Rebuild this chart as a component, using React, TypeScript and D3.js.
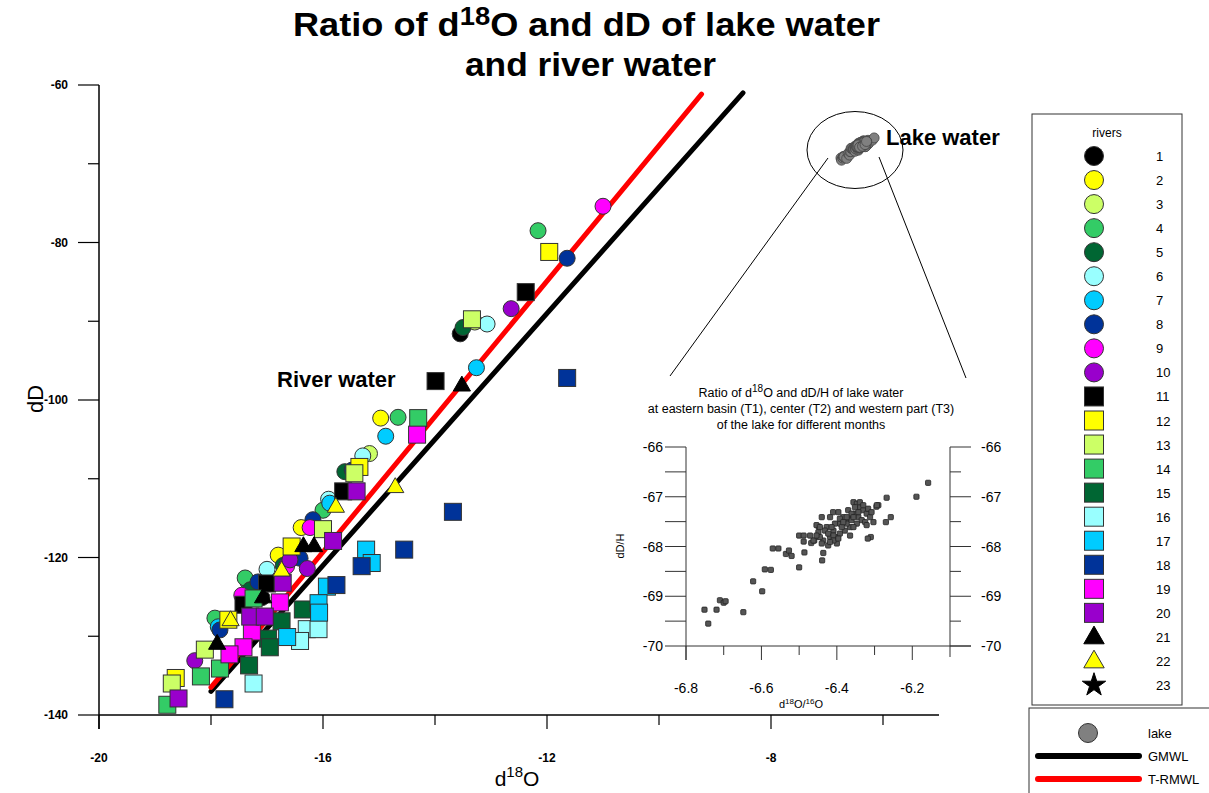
import React from "react";
import * as d3 from "d3";

type Pt = [number, number];

// River samples: [d18O, dD] per river
const river01: Pt[] = [[-13.55, -91.6], [-16.59, -120.3], [-17.09, -125.1]];
const river02: Pt[] = [[-14.97, -102.3], [-16.39, -116.2], [-16.8, -119.7]];
const river03: Pt[] = [[-15.17, -106.8], [-13.29, -90.1], [-17.21, -123.5]];
const river04: Pt[] = [[-12.16, -78.5], [-14.66, -102.2], [-16.0, -114.0], [-17.34, -123.1], [-17.39, -122.6], [-17.93, -127.7]];
const river05: Pt[] = [[-13.5, -90.8], [-15.61, -109.1], [-16.71, -121.0], [-17.3, -124.1]];
const river06: Pt[] = [[-13.07, -90.35], [-15.29, -107.1], [-15.9, -112.6], [-17.0, -121.5]];
const river07: Pt[] = [[-13.26, -95.9], [-14.88, -104.6], [-15.88, -113.1], [-17.87, -128.8]];
const river08: Pt[] = [[-11.64, -82.0], [-16.18, -115.2], [-17.16, -123.1], [-17.84, -129.2], [-15.48, -108.9], [-16.41, -120.1]];
const river09: Pt[] = [[-11.0, -75.4], [-16.23, -116.2], [-16.65, -121.1], [-17.45, -124.8]];
const river10: Pt[] = [[-12.64, -88.4], [-16.28, -121.4], [-18.29, -133.1], [-16.59, -120.3]];
const river11: Pt[] = [[-12.38, -86.3], [-13.99, -97.6], [-15.64, -111.6], [-17.0, -123.3], [-17.42, -126.0]];
const river12: Pt[] = [[-11.96, -81.2], [-15.35, -108.5], [-16.56, -118.6], [-17.69, -127.9], [-18.63, -135.3]];
const river13: Pt[] = [[-13.34, -89.75], [-15.44, -109.3], [-16.0, -116.4], [-18.11, -131.7], [-18.7, -136.0]];
const river14: Pt[] = [[-14.3, -102.3], [-17.24, -125.2], [-17.84, -134.1], [-18.18, -135.1], [-18.78, -138.7]];
const river15: Pt[] = [[-16.36, -126.6], [-16.74, -128.1], [-16.98, -130.3], [-16.95, -131.4], [-17.32, -133.7]];
const river16: Pt[] = [[-16.29, -129.1], [-16.08, -129.1], [-16.41, -130.6], [-17.24, -136.0]];
const river17: Pt[] = [[-15.23, -119.0], [-15.13, -120.7], [-15.93, -123.7], [-16.08, -125.8], [-16.07, -127.0], [-16.64, -130.1]];
const river18: Pt[] = [[-11.64, -97.2], [-13.68, -114.2], [-14.55, -119.0], [-15.31, -121.1], [-15.76, -123.5], [-17.76, -138.0]];
const river19: Pt[] = [[-14.32, -104.4], [-16.77, -125.7], [-17.27, -129.4], [-17.42, -131.4], [-17.67, -132.3]];
const river20: Pt[] = [[-15.4, -111.6], [-15.82, -117.9], [-16.72, -123.2], [-17.3, -127.5], [-17.04, -127.5], [-18.58, -137.9]];
const river21: Pt[] = [[-13.52, -98.1], [-16.35, -118.5], [-16.16, -118.5], [-17.07, -125.0], [-17.89, -130.9]];
const river22: Pt[] = [[-14.71, -111.0], [-15.77, -113.5], [-16.74, -121.6], [-17.65, -127.9]];
const river23: Pt[] = [];

const riverData: Pt[][] = [
  river01, river02, river03, river04, river05, river06, river07, river08, river09, river10,
  river11, river12, river13, river14, river15, river16, river17, river18, river19, river20,
  river21, river22, river23,
];
const riverLabels = d3.range(1, 24).map(String);

const palette = ["#000000", "#ffff00", "#ccff66", "#33cc66", "#006633", "#99ffff", "#00ccff", "#003399", "#ff00ff", "#9900cc"];
type Shape = "circle" | "square" | "triangle" | "star";
const riverShape = (i: number): Shape => (i < 10 ? "circle" : i < 20 ? "square" : i === 22 ? "star" : "triangle");
const riverFill = (i: number): string => (i < 20 ? palette[i % 10] : i === 21 ? "#ffff00" : "#000000");

// Lake water samples: [d18O, dD]
const lakeSamples: Pt[] = [
  [-6.751, -69.27], [-6.741, -69.55], [-6.719, -69.27], [-6.71, -69.08], [-6.7, -69.13], [-6.695, -69.1],
  [-6.648, -69.32], [-6.622, -68.7], [-6.598, -68.9], [-6.591, -68.46], [-6.575, -68.47], [-6.57, -68.04],
  [-6.555, -68.04], [-6.535, -68.15], [-6.527, -68.08], [-6.52, -68.19], [-6.5, -68.42], [-6.5, -67.78],
  [-6.488, -67.78], [-6.488, -67.9], [-6.486, -68.12], [-6.468, -67.93], [-6.46, -67.88], [-6.452, -67.8],
  [-6.448, -67.6], [-6.439, -68.28], [-6.436, -68.13], [-6.41, -67.31], [-6.268, -67.02], [-6.27, -67.51],
  [-6.257, -67.41], [-6.189, -67.0], [-6.158, -66.72], [-6.29, -67.17], [-6.295, -67.2], [-6.31, -67.81],
  [-6.318, -67.84],
  [-6.454, -67.57], [-6.449, -67.71], [-6.44, -67.41], [-6.427, -67.61], [-6.418, -67.41], [-6.409, -67.68],
  [-6.396, -67.31], [-6.392, -67.54], [-6.383, -67.41], [-6.37, -67.44], [-6.356, -67.11], [-6.347, -67.14],
  [-6.339, -67.21], [-6.33, -67.27], [-6.321, -67.34], [-6.312, -67.41], [-6.352, -67.34], [-6.365, -67.61],
  [-6.379, -67.68], [-6.4, -67.81], [-6.418, -67.81], [-6.436, -67.88], [-6.44, -67.94], [-6.4, -67.94],
  [-6.423, -67.98], [-6.462, -67.88], [-6.471, -67.78], [-6.445, -67.81], [-6.392, -67.74], [-6.374, -67.54],
  [-6.361, -67.47], [-6.343, -67.41], [-6.334, -67.47], [-6.325, -67.51], [-6.347, -67.54], [-6.356, -67.61],
  [-6.387, -67.61], [-6.405, -67.54], [-6.414, -67.61], [-6.432, -67.68], [-6.423, -67.74], [-6.409, -67.78],
  [-6.37, -67.27], [-6.361, -67.34], [-6.352, -67.21], [-6.339, -67.11], [-6.33, -67.17], [-6.317, -67.24],
  [-6.308, -67.31], [-6.374, -67.41], [-6.392, -67.44], [-6.383, -67.51], [-6.356, -67.41], [-6.343, -67.31],
  [-6.454, -67.78], [-6.445, -67.61], [-6.409, -67.88], [-6.396, -67.84], [-6.418, -67.91], [-6.365, -67.78],
  [-6.303, -67.51], [-6.321, -67.57], [-6.294, -67.17],
];

// Meteoric water lines: dD = slope * d18O + intercept over [from, to]
const waterLines = [
  { name: "GMWL", slope: 8, intercept: 7, from: -18, to: -8.5, color: "#000000" },
  { name: "T-RMWL", slope: 8.6, intercept: 18.3, from: -18, to: -9.24, color: "#ff0000" },
];

const xMajor = [-20, -16, -12, -8];
const xMinor = [-18, -14, -10, -6];
const yMajor = [-140, -120, -100, -80, -60];
const yMinor = [-130, -110, -90, -70];
const insetXMajor = [-6.8, -6.6, -6.4, -6.2];
const insetXMinor = [-6.7, -6.5, -6.3];
const insetYMajor = [-70, -69, -68, -67, -66];
const insetYMinor = [-69.5, -68.5, -67.5, -66.5];

const FONT = "'Liberation Sans', Arial, sans-serif";

function Marker({ shape, cx, cy, fill, size }: { shape: Shape; cx: number; cy: number; fill: string; size: number }) {
  const stroke = "#333";
  if (shape === "circle") return <circle cx={cx} cy={cy} r={size / 2} fill={fill} stroke={stroke} strokeWidth={1} />;
  if (shape === "square")
    return <rect x={cx - size / 2} y={cy - size / 2} width={size} height={size} fill={fill} stroke={stroke} strokeWidth={1} />;
  const area = shape === "triangle" ? size * size * 0.5 : size * size * 0.35;
  const sym = d3.symbol().type(shape === "triangle" ? d3.symbolTriangle : d3.symbolStar).size(area)()!;
  return <path d={sym} transform={`translate(${cx},${cy + (shape === "triangle" ? 1 : 0)})`} fill={fill} stroke={fill === "#000000" ? "#000" : stroke} strokeWidth={1} />;
}

export default function App() {
  const x = d3.scaleLinear().domain([-20, -5]).range([99, 939]);
  const y = d3.scaleLinear().domain([-140, -60]).range([715, 85]);
  const ix = d3.scaleLinear().domain([-6.8, -6.1]).range([686, 950]);
  const iy = d3.scaleLinear().domain([-70, -66]).range([646, 447]);

  const legendY = d3.scaleLinear().domain([0, 22]).range([156, 685]);

  return (
    <svg width={1209} height={793} style={{ position: "absolute", left: 0, top: 0, background: "#fff" }} fontFamily={FONT}>
      <rect width={1209} height={793} fill="#fff" />
      {/* Title */}
      <text x={293} y={36} fontSize={33} fontWeight="bold" textLength={587} lengthAdjust="spacingAndGlyphs">
        Ratio of d<tspan fontSize={25} dy={-11}>18</tspan><tspan dy={11}>O and dD of lake water</tspan>
      </text>
      <text x={465} y={76} fontSize={33} fontWeight="bold" textLength={251} lengthAdjust="spacingAndGlyphs">and river water</text>

      {/* Main axes */}
      <line x1={x(-20)} x2={x(-20)} y1={y(-60)} y2={y(-140) + 14} stroke="#000" strokeWidth={1.5} />
      <line x1={x(-20)} x2={x(-5)} y1={y(-140)} y2={y(-140)} stroke="#000" strokeWidth={1.5} />
      {yMajor.map((v) => (
        <g key={"ym" + v}>
          <line x1={x(-20) - 21} x2={x(-20)} y1={y(v)} y2={y(v)} stroke="#000" strokeWidth={1.2} />
          <text x={68} y={y(v) + 4} textAnchor="end" fontSize={12} fontWeight="bold">{v}</text>
        </g>
      ))}
      {yMinor.map((v) => (
        <line key={"yn" + v} x1={x(-20) - 11} x2={x(-20)} y1={y(v)} y2={y(v)} stroke="#000" strokeWidth={1.2} />
      ))}
      {xMajor.map((v) => (
        <g key={"xm" + v}>
          <line x1={x(v)} x2={x(v)} y1={y(-140)} y2={y(-140) + 14} stroke="#000" strokeWidth={1.2} />
          <text x={x(v)} y={762} textAnchor="middle" fontSize={12} fontWeight="bold">{v}</text>
        </g>
      ))}
      {xMinor.map((v) => (
        <line key={"xn" + v} x1={x(v)} x2={x(v)} y1={y(-140)} y2={y(-140) + 10} stroke="#000" strokeWidth={1.2} />
      ))}
      <text x={517} y={786} textAnchor="middle" fontSize={21}>
        d<tspan fontSize={15} dy={-9}>18</tspan><tspan dy={9}>O</tspan>
      </text>
      <text transform="translate(43,399) rotate(-90)" textAnchor="middle" fontSize={22}>dD</text>

      {/* Water lines */}
      {waterLines.map((l) => (
        <line key={l.name} x1={x(l.from)} y1={y(l.slope * l.from + l.intercept)} x2={x(l.to)} y2={y(l.slope * l.to + l.intercept)}
          stroke={l.color} strokeWidth={5} strokeLinecap="round" />
      ))}

      {/* River samples */}
      {riverData.map((pts, i) =>
        pts.map((p, j) => (
          <Marker key={`r${i}-${j}`} shape={riverShape(i)} cx={x(p[0])} cy={y(p[1])} fill={riverFill(i)} size={riverShape(i) === "square" ? 17 : 16} />
        ))
      )}

      {/* Lake samples in main plot */}
      {lakeSamples.map((p, j) => (
        <circle key={"lk" + j} cx={x(p[0])} cy={y(p[1])} r={5} fill="#808080" stroke="#444" strokeWidth={0.8} />
      ))}

      <text x={277} y={387} fontSize={22} fontWeight="bold">River water</text>
      <text x={886} y={145} fontSize={22} fontWeight="bold">Lake water</text>

      {/* Zoom ellipse and leaders */}
      <ellipse cx={855} cy={150} rx={48} ry={38.5} fill="none" stroke="#000" strokeWidth={1} />
      <line x1={828} y1={158} x2={670} y2={376} stroke="#000" strokeWidth={1} />
      <line x1={879} y1={157} x2={966} y2={378} stroke="#000" strokeWidth={1} />

      {/* Inset */}
      <g fontSize={12.5} textAnchor="middle">
        <text x={801} y={397}>
          Ratio of d<tspan fontSize={10} dy={-5}>18</tspan><tspan dy={5}>O and dD/H of lake water</tspan>
        </text>
        <text x={801} y={413}>at eastern basin (T1), center (T2) and western part (T3)</text>
        <text x={801} y={429}>of the lake for different months</text>
      </g>
      <line x1={ix(-6.8)} x2={ix(-6.8)} y1={iy(-66)} y2={iy(-70) + 14} stroke="#333" strokeWidth={1} />
      <line x1={ix(-6.1)} x2={ix(-6.1)} y1={iy(-66)} y2={iy(-70) + 11} stroke="#333" strokeWidth={1} />
      <line x1={ix(-6.8)} x2={ix(-6.1) + 21} y1={iy(-70)} y2={iy(-70)} stroke="#333" strokeWidth={1} />
      {insetYMajor.map((v) => (
        <g key={"iym" + v}>
          <line x1={ix(-6.8) - 21} x2={ix(-6.8)} y1={iy(v)} y2={iy(v)} stroke="#333" strokeWidth={1} />
          <line x1={ix(-6.1)} x2={ix(-6.1) + 21} y1={iy(v)} y2={iy(v)} stroke="#333" strokeWidth={1} />
          <text x={ix(-6.8) - 23} y={iy(v) + 5} textAnchor="end" fontSize={14}>{v}</text>
          <text x={ix(-6.1) + 31} y={iy(v) + 5} textAnchor="start" fontSize={14}>{v}</text>
        </g>
      ))}
      {insetYMinor.map((v) => (
        <g key={"iyn" + v}>
          <line x1={ix(-6.8) - 21} x2={ix(-6.8)} y1={iy(v)} y2={iy(v)} stroke="#333" strokeWidth={1} />
          <line x1={ix(-6.1)} x2={ix(-6.1) + 11} y1={iy(v)} y2={iy(v)} stroke="#333" strokeWidth={1} />
        </g>
      ))}
      {insetXMajor.map((v) => (
        <g key={"ixm" + v}>
          <line x1={ix(v)} x2={ix(v)} y1={iy(-70)} y2={iy(-70) + 14} stroke="#333" strokeWidth={1} />
          <text x={ix(v)} y={693} textAnchor="middle" fontSize={14}>{v.toFixed(1)}</text>
        </g>
      ))}
      {insetXMinor.map((v) => (
        <line key={"ixn" + v} x1={ix(v)} x2={ix(v)} y1={iy(-70)} y2={iy(-70) + 9} stroke="#333" strokeWidth={1} />
      ))}
      <text x={801} y={708} textAnchor="middle" fontSize={11}>
        d<tspan fontSize={8} dy={-4}>18</tspan><tspan dy={4}>O/</tspan><tspan fontSize={8} dy={-4}>16</tspan><tspan dy={4}>O</tspan>
      </text>
      <text transform="translate(624,546) rotate(-90)" textAnchor="middle" fontSize={11}>dD/H</text>
      {lakeSamples.map((p, j) => (
        <rect key={"ilk" + j} x={ix(p[0]) - 2.6} y={iy(p[1]) - 2.6} width={5.2} height={5.2} rx={1} fill="#555" stroke="#222" strokeWidth={0.8} />
      ))}

      {/* River legend */}
      <rect x={1032} y={114} width={150} height={591} fill="#fff" stroke="#333" strokeWidth={1} />
      <text x={1107} y={137} textAnchor="middle" fontSize={12}>rivers</text>
      {riverLabels.map((lab, i) => (
        <g key={"lg" + i}>
          <Marker shape={riverShape(i)} cx={1094} cy={legendY(i)} fill={riverFill(i)} size={riverShape(i) === "star" ? 22 : 19} />
          <text x={1156} y={legendY(i) + 5} fontSize={13}>{lab}</text>
        </g>
      ))}

      {/* Line legend */}
      <rect x={1029} y={708} width={200} height={100} fill="#fff" stroke="#333" strokeWidth={1} />
      <circle cx={1088} cy={733} r={9.5} fill="#808080" stroke="#333" strokeWidth={1} />
      <text x={1148} y={738} fontSize={13}>lake</text>
      {waterLines.map((l, i) => (
        <g key={"ll" + l.name}>
          <line x1={1038} x2={1139} y1={756 + i * 23} y2={756 + i * 23} stroke={l.color} strokeWidth={6} strokeLinecap="round" />
          <text x={1148} y={761 + i * 23} fontSize={13}>{l.name}</text>
        </g>
      ))}
    </svg>
  );
}
